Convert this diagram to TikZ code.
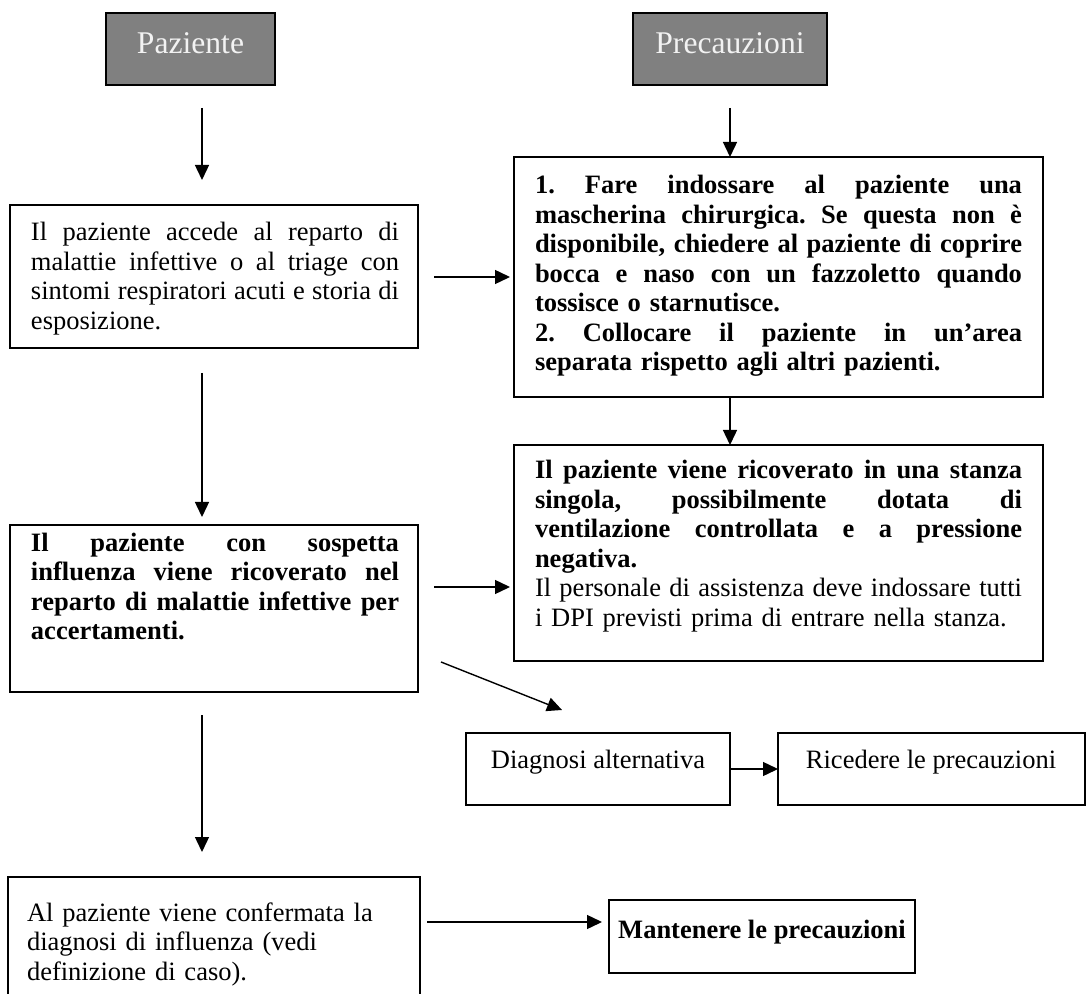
\documentclass[tikz,border=0pt]{standalone}
\usepackage{fontspec}
\setmainfont{Liberation Serif}
\usetikzlibrary{arrows.meta}
\newcommand{\J}[1]{\makebox[\hsize][s]{\spaceskip=0pt\xspaceskip=0pt\relax #1}\\}
\definecolor{hdrfill}{HTML}{808080}
\definecolor{hdrtext}{HTML}{F2F2F2}
\frenchspacing
\begin{document}
\begin{tikzpicture}[x=0.5pt,y=-0.5pt,
  every node/.style={inner sep=0pt, outer sep=0pt},
  hdr/.style={draw=black, line width=1.2pt, fill=hdrfill, text=hdrtext, font=\fontsize{15.8}{19}\selectfont, text height=0.7em, text depth=0.25em, anchor=north west},
  box/.style={draw=black, line width=0.75pt, anchor=north west},
  txt/.style={anchor=base west, align=left, font=\fontsize{13.25}{14.75}\selectfont\frenchspacing},
  lbl/.style={anchor=base, font=\fontsize{13.25}{14.75}\selectfont},
  arr/.style={line width=0.7pt, -{Triangle[length=7.5pt,width=7pt]}}]
\clip (0,0) rectangle (1087,994);
\fill[white] (0,0) rectangle (1087,994);
% headers
\node[hdr, minimum width=84.5pt, minimum height=36pt] (paz) at (106,13) {Paziente};
\node[hdr, minimum width=97pt, minimum height=36pt] (pre) at (633,13) {Precauzioni};
% boxes
\node[box, minimum width=204pt, minimum height=71.5pt] (b1) at (10,205) {};
\node[txt, text width=184pt] (t1) at (31,241) {\J{Il paziente accede al reparto di}\J{malattie infettive o al triage con}\J{sintomi respiratori acuti e storia di}esposizione.};
\node[box, minimum width=264.5pt, minimum height=120pt] (b2) at (514,157) {};
\node[txt, text width=243.5pt] (t2) at (535,194) {\bfseries\J{1. Fare indossare al paziente una}\J{mascherina chirurgica. Se questa non è}\J{disponibile, chiedere al paziente di coprire}\J{bocca e naso con un fazzoletto quando}tossisce o starnutisce.\\\J{2. Collocare il paziente in un’area}separata rispetto agli altri pazienti.};
\node[box, minimum width=264.5pt, minimum height=108pt] (b3) at (514,445) {};
\node[txt, text width=243.5pt] (t3) at (535,479) {{\bfseries\J{Il paziente viene ricoverato in una stanza}\J{singola, possibilmente dotata di}\J{ventilazione controllata e a pressione}negativa.}\\\J{Il personale di assistenza deve indossare tutti}i DPI previsti prima di entrare nella stanza.};
\node[box, minimum width=204pt, minimum height=83.5pt] (b4) at (10,525) {};
\node[txt, text width=184pt] (t4) at (31,551) {\bfseries\J{Il paziente con sospetta}\J{influenza viene ricoverato nel}\J{reparto di malattie infettive per}accertamenti.};
\node[box, minimum width=132pt, minimum height=36pt] (dg) at (466,733) {};
\node[lbl] (tdg) at (598,768) {Diagnosi alternativa};
\node[box, minimum width=153.5pt, minimum height=36pt] (rc) at (778,733) {};
\node[lbl] (trc) at (931,768) {Ricedere le precauzioni};
\node[box, minimum width=206pt, minimum height=66.5pt] (b6) at (8,877) {};
\node[txt, text width=190pt] (t6) at (27,921) {Al paziente viene confermata la\\diagnosi di influenza (vedi\\definizione di caso).};
\node[box, minimum width=153pt, minimum height=36.5pt] (mp) at (609,900) {};
\node[lbl, font=\fontsize{13.25}{14.75}\selectfont\bfseries] (tmp) at (762,938) {Mantenere le precauzioni};
% connector end points
\coordinate (a1s) at (202,108); \coordinate (a1e) at (202,180);
\coordinate (a2s) at (730,108); \coordinate (a2e) at (730,157);
\coordinate (b1s) at (434,277); \coordinate (b1e) at (510,277);
\coordinate (a3s) at (730,397); \coordinate (a3e) at (730,445);
\coordinate (a4s) at (202,373); \coordinate (a4e) at (202,517);
\coordinate (b2s) at (434,587); \coordinate (b2e) at (510,587);
\coordinate (ds) at (441,662); \coordinate (de) at (562,710);
\coordinate (a5s) at (202,715); \coordinate (a5e) at (202,852);
\coordinate (b3s) at (427,922); \coordinate (b3e) at (602,922);
% connectors
\draw[arr] (a1s) -- (a1e);
\draw[arr] (a2s) -- (a2e);
\draw[arr] (b1s) -- (b1e);
\draw[arr] (a3s) -- (a3e);
\draw[arr] (a4s) -- (a4e);
\draw[arr] (b2s) -- (b2e);
\draw[arr] (ds) -- (de);
\draw[arr] (dg.east) -- (rc.west);
\draw[arr] (a5s) -- (a5e);
\draw[arr] (b3s) -- (b3e);
\end{tikzpicture}
\end{document}
